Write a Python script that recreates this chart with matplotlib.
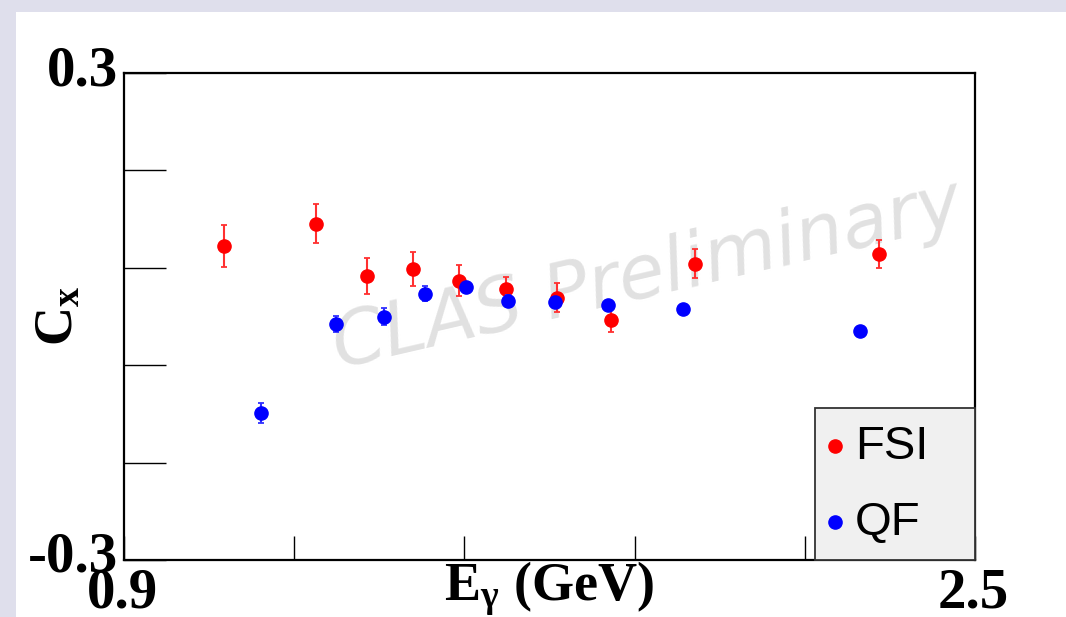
import matplotlib
matplotlib.use("Agg")
import matplotlib.pyplot as plt
from matplotlib.patches import Rectangle
from matplotlib.lines import Line2D

plt.rcParams["mathtext.fontset"] = "custom"
plt.rcParams["mathtext.rm"] = "Liberation Serif:bold"
plt.rcParams["mathtext.it"] = "Liberation Serif:bold"
plt.rcParams["mathtext.bf"] = "Liberation Serif:bold"

# ---- data ----
fsi_x = [1.088, 1.261, 1.357, 1.443, 1.530, 1.618, 1.714, 1.816, 1.974, 2.319]
fsi_y = [0.087, 0.114, 0.050, 0.059, 0.044, 0.034, 0.023, -0.004, 0.065, 0.077]
fsi_err = [0.026, 0.024, 0.022, 0.021, 0.019, 0.015, 0.018, 0.015, 0.018, 0.017]

qf_x = [1.158, 1.299, 1.389, 1.466, 1.543, 1.622, 1.710, 1.810, 1.951, 2.284]
qf_y = [-0.119, -0.009, 0.000, 0.028, 0.036, 0.019, 0.018, 0.014, 0.009, -0.018]
qf_err = [0.012, 0.010, 0.010, 0.009, 0.007, 0.007, 0.006, 0.005, 0.004, 0.004]

x_ticks = [0.9, 1.22, 1.54, 1.86, 2.18, 2.5]
y_ticks = [-0.3, -0.18, -0.06, 0.06, 0.18, 0.3]
x_lim = (0.9, 2.5)
y_lim = (-0.3, 0.3)

W, H = 1066, 617
fig = plt.figure(figsize=(W / 100, H / 100), dpi=100)
fig.patch.set_facecolor("#dfdfec")
# white slide panel
fig.patches.append(Rectangle((16 / W, 0), 1 - 16 / W, 1 - 12 / H,
                             transform=fig.transFigure, facecolor="white",
                             edgecolor="none", zorder=-10))

ax = fig.add_axes([124 / W, 1 - 560 / H, (975 - 124) / W, (560 - 73) / H])
ax.set_facecolor("none")
ax.set_xlim(*x_lim)
ax.set_ylim(*y_lim)
for s in ax.spines.values():
    s.set_linewidth(1.6)
    s.set_color("black")

ax.set_xticks(x_ticks)
ax.set_yticks(y_ticks)
ax.tick_params(axis="y", direction="in", length=30, width=1.0, left=True, right=False,
               labelleft=False)
ax.tick_params(axis="x", direction="in", length=17, width=1.0, bottom=True, top=False,
               labelbottom=False)

serif = dict(family="Liberation Serif", weight="bold", color="black")
# tick labels only at ends
fig.text(118 / W, 1 - 72 / H, "0.3", ha="right", va="center", fontsize=41, **serif)
fig.text(118 / W, 1 - 557 / H, "-0.3", ha="right", va="center", fontsize=41, **serif)
fig.text(122 / W, 1 - 593 / H, "0.9", ha="center", va="center", fontsize=41, **serif)
fig.text(973 / W, 1 - 593 / H, "2.5", ha="center", va="center", fontsize=41, **serif)

# axis titles
fig.text(549 / W, 1 - 589 / H, r"E$_{\mathrm{γ}}$ (GeV)", ha="center", va="center",
         fontsize=39, **serif)
fig.text(60 / W, 1 - 316 / H, r"C$_{\mathrm{x}}$", ha="center", va="center",
         rotation=90, fontsize=39, **serif)

# watermark
ax.text(0.615, 0.585, "CLAS Preliminary", transform=ax.transAxes, rotation=13,
        ha="center", va="center", fontsize=54, color="#e1e1e1", style="italic",
        family="DejaVu Sans", zorder=1)

ax.errorbar(fsi_x, fsi_y, yerr=fsi_err, fmt="o", color="red", ms=9.5,
            ecolor="#ff3030", elinewidth=1.5, capsize=2.5, capthick=1.3, zorder=3)
ax.errorbar(qf_x, qf_y, yerr=qf_err, fmt="o", color="blue", ms=9.5,
            ecolor="#3030ff", elinewidth=1.5, capsize=2.5, capthick=1.3, zorder=4)

# legend box
ax.add_patch(Rectangle((815 / W, 1 - 560 / H), (975 - 815) / W, (560 - 408) / H,
                       transform=fig.transFigure, facecolor="#f0f0f0",
                       edgecolor="#333333", linewidth=1.3, zorder=5, clip_on=False))
fig.lines.append(Line2D([835 / W], [1 - 446 / H], marker="o", ms=9.5, color="red",
                        transform=fig.transFigure, zorder=6))
fig.lines.append(Line2D([835 / W], [1 - 522 / H], marker="o", ms=9.5, color="blue",
                        transform=fig.transFigure, zorder=6))
fig.text(855 / W, 1 - 447 / H, "FSI", ha="left", va="center", fontsize=34,
         family="Liberation Sans", zorder=7)
fig.text(855 / W, 1 - 523 / H, "QF", ha="left", va="center", fontsize=34,
         family="Liberation Sans", zorder=7)

fig.savefig("out.png", dpi=100)
